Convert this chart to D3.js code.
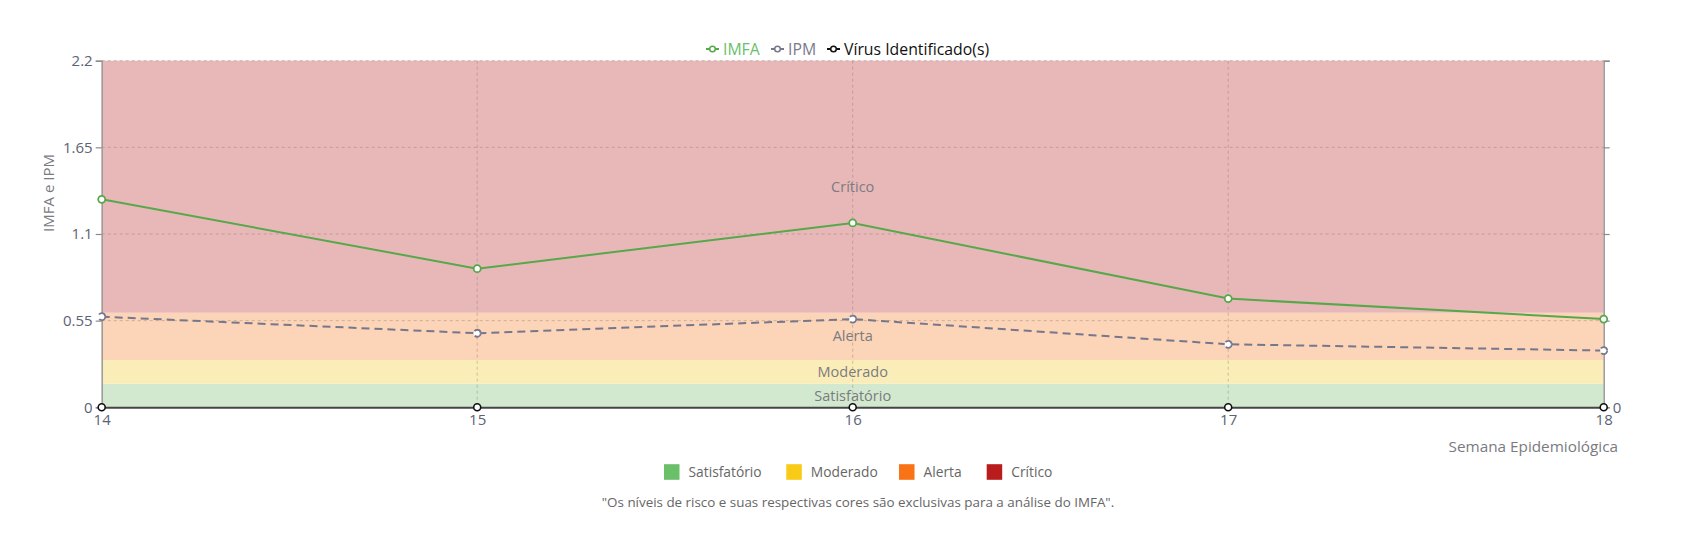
<!DOCTYPE html>
<html><head><meta charset="utf-8">
<script src="https://cdn.jsdelivr.net/npm/d3@7"></script>
<style>
html,body{margin:0;padding:0;background:#fff;}
svg{display:block;font-family:"Open Sans",sans-serif;}
</style></head>
<body>
<svg id="chart" width="1695" height="554"></svg>
<script>
const weeks = [14, 15, 16, 17, 18];
const imfa = [1.32, 0.88, 1.17, 0.69, 0.56];
const ipm = [0.575, 0.47, 0.56, 0.40, 0.36];
const virus = [0, 0, 0, 0, 0];
const yTicks = [0, 0.55, 1.1, 1.65, 2.2];
const bandNames = ["Satisfatório", "Moderado", "Alerta", "Crítico"];
const bandLow = [0, 0.15, 0.3, 0.6];
const bandHigh = [0.15, 0.3, 0.6, 2.2];
const bandFill = ["#d2e9cf", "#fbedb8", "#fcd4b7", "#e8b8b9"];
const bandKey = ["#6abf69", "#f9cb16", "#f97316", "#b91c1c"];
const seriesNames = ["IMFA", "IPM", "Vírus Identificado(s)"];
const seriesColors = ["#57a84b", "#76778c", "#111111"];
const legendText = ["#6abf69", "#7a7b8c", "#111111"];

const svg = d3.select("#chart");
const L = 101.7, R = 1603.7, T = 60.7, B = 407.3;
const x = d3.scaleLinear().domain([14, 18]).range([L, R]);
const y = d3.scaleLinear().domain([0, 2.2]).range([B, T]);
const y2 = d3.scaleLinear().domain([0, 1]).range([B, T]);

// bands
svg.append("g").selectAll("rect").data(bandNames).join("rect")
  .attr("x", L).attr("width", R - L)
  .attr("y", (d, i) => y(bandHigh[i]))
  .attr("height", (d, i) => y(bandLow[i]) - y(bandHigh[i]))
  .attr("fill", (d, i) => bandFill[i]);

// grid
const grid = svg.append("g");
grid.selectAll("line.h").data(yTicks.filter(v => v > 0)).join("line")
  .attr("x1", L).attr("x2", R).attr("y1", d => y(d)).attr("y2", d => y(d))
  .attr("stroke", "rgba(120,100,100,0.35)").attr("stroke-dasharray", "3,3");
grid.selectAll("line.v").data(weeks.slice(1, -1)).join("line")
  .attr("x1", d => x(d)).attr("x2", d => x(d)).attr("y1", T).attr("y2", B)
  .attr("stroke", "rgba(120,100,100,0.35)").attr("stroke-dasharray", "3,3");

// band labels
svg.append("g").selectAll("text").data(bandNames).join("text")
  .attr("x", (L + R) / 2).attr("y", (d, i) => y((bandLow[i] + bandHigh[i]) / 2))
  .attr("dy", "0.35em").attr("text-anchor", "middle")
  .attr("font-size", 14.5).attr("fill", "#7b7b80").text(d => d);

// left axis
const yAxis = svg.append("g").attr("transform", `translate(${L},0)`)
  .call(d3.axisLeft(y).tickValues(yTicks).tickFormat(d => String(d)).tickSize(6).tickPadding(3));
yAxis.select(".domain").attr("stroke", "#9a9a9a").attr("stroke-width", 1.5);
yAxis.selectAll(".tick line").attr("stroke", "#8a8a8a").attr("stroke-width", 1.2);
yAxis.selectAll(".tick text").attr("font-size", 15).attr("fill", "#5b6374").attr("font-family", "Open Sans");

// right axis
const yAxisR = svg.append("g").attr("transform", `translate(${R},0)`)
  .call(d3.axisRight(y).tickValues(yTicks).tickFormat(d => d === 0 ? "0" : "").tickSize(6).tickPadding(3));
yAxisR.select(".domain").attr("stroke", "#9a9a9a").attr("stroke-width", 1.5);
yAxisR.selectAll(".tick line").attr("stroke", "#8a8a8a").attr("stroke-width", 1.2);
yAxisR.selectAll(".tick text").attr("font-size", 15).attr("fill", "#5b6374").attr("font-family", "Open Sans");

// bottom axis
const xAxis = svg.append("g").attr("transform", `translate(0,${B})`)
  .call(d3.axisBottom(x).tickValues(weeks).tickFormat(d3.format("d")).tickSize(0).tickPadding(7));
xAxis.select(".domain").attr("stroke", "#444").attr("stroke-width", 2);
xAxis.selectAll(".tick text").attr("font-size", 15).attr("fill", "#5b6374").attr("font-family", "Open Sans");

// axis titles
svg.append("text").attr("transform", `translate(48.5,193) rotate(-90)`)
  .attr("text-anchor", "middle").attr("dy", "0.35em")
  .attr("font-size", 15).attr("fill", "#7a7a80").text("IMFA e IPM");
svg.append("text").attr("x", 1618).attr("y", 447).attr("dy", "0.35em")
  .attr("text-anchor", "end").attr("font-size", 15.3).attr("fill", "#7a7a80")
  .text("Semana Epidemiológica");

// lines
const line = d3.line().x((d, i) => x(weeks[i])).y(d => y(d));
svg.append("path").datum(imfa).attr("d", line).attr("fill", "none")
  .attr("stroke", seriesColors[0]).attr("stroke-width", 2);
svg.append("path").datum(ipm).attr("d", line).attr("fill", "none")
  .attr("stroke", seriesColors[1]).attr("stroke-width", 2).attr("stroke-dasharray", "8,5");

svg.append("g").selectAll("circle").data(imfa).join("circle")
  .attr("cx", (d, i) => x(weeks[i])).attr("cy", d => y(d)).attr("r", 3.5)
  .attr("fill", "#fff").attr("stroke", seriesColors[0]).attr("stroke-width", 1.8);
svg.append("g").selectAll("circle").data(ipm).join("circle")
  .attr("cx", (d, i) => x(weeks[i])).attr("cy", d => y(d)).attr("r", 3.5)
  .attr("fill", "#fff").attr("stroke", seriesColors[1]).attr("stroke-width", 1.8)
  .attr("stroke-dasharray", "8,5");
svg.append("g").selectAll("circle").data(virus).join("circle")
  .attr("cx", (d, i) => x(weeks[i])).attr("cy", d => y2(d)).attr("r", 3.5)
  .attr("fill", "#fff").attr("stroke", seriesColors[2]).attr("stroke-width", 1.6);

// top legend
const legX = [706, 771, 827];
const lg = svg.append("g").selectAll("g").data(seriesNames).join("g")
  .attr("transform", (d, i) => `translate(${legX[i]},49)`);
lg.append("line").attr("x1", 0).attr("x2", 13).attr("stroke", (d, i) => seriesColors[i]).attr("stroke-width", 2);
lg.append("circle").attr("cx", 6.5).attr("r", 2.8).attr("fill", "#fff")
  .attr("stroke", (d, i) => seriesColors[i]).attr("stroke-width", 1.5);
lg.append("text").attr("x", 17).attr("dy", "0.35em").attr("font-size", 15.8)
  .attr("fill", (d, i) => legendText[i]).text(d => d);

// bottom legend
const keyX = [664, 786.3, 899, 986.7];
const kg = svg.append("g").selectAll("g").data(bandNames).join("g")
  .attr("transform", (d, i) => `translate(${keyX[i]},472)`);
kg.append("rect").attr("x", 0).attr("y", -7.8).attr("width", 15.5).attr("height", 15.6)
  .attr("fill", (d, i) => bandKey[i]);
kg.append("text").attr("x", 24.5).attr("dy", "0.35em").attr("font-size", 13.8)
  .attr("fill", "#666").text(d => d);

svg.append("text").attr("x", 858).attr("y", 502).attr("dy", "0.35em")
  .attr("text-anchor", "middle").attr("font-size", 13.4).attr("fill", "#666")
  .text("\"Os níveis de risco e suas respectivas cores são exclusivas para a análise do IMFA\".");
</script>
</body></html>
